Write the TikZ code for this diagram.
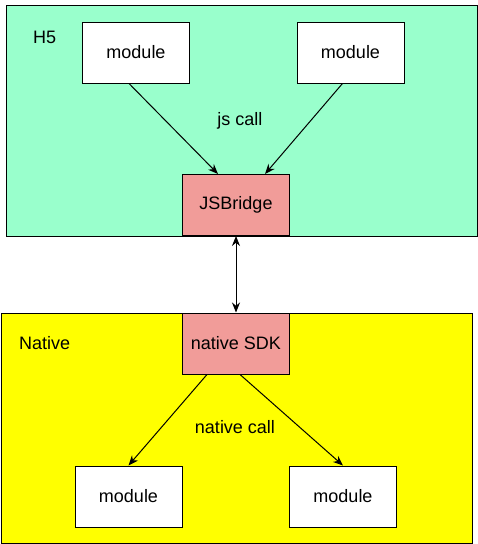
\documentclass[tikz,border=0pt]{standalone}
\usepackage{fontspec}
\setmainfont{Liberation Sans}
\usetikzlibrary{arrows.meta,positioning,calc}
\definecolor{mintGreen}{RGB}{153,255,204}
\definecolor{sdkPink}{RGB}{241,156,153}
\definecolor{nativeYellow}{RGB}{255,255,0}

\begin{document}
\begin{tikzpicture}[
  x=1pt, y=-1pt,
  group/.style={rectangle, draw=black, line width=1pt, fill=#1,
                inner sep=0pt},
  box/.style={rectangle, draw=black, line width=1pt, fill=#1,
              minimum width=107pt, minimum height=61pt, inner sep=0pt,
              font=\fontsize{18}{20}\selectfont},
  lbl/.style={font=\fontsize{18}{20}\selectfont, inner sep=0pt},
  arr/.style={-{Stealth[length=10pt,width=8pt]}, line width=1pt, black}
]
  \useasboundingbox (0,0) rectangle (478,544);
  % layers
  \node[group=mintGreen, minimum width=471pt, minimum height=231pt]
    (H5) at (241.5,120.5) {};
  \node[group=nativeYellow, minimum width=471pt, minimum height=230pt]
    (Native) at (236.5,428) {};
  \node[lbl, anchor=west] (H5lbl) at (33,37) {H5};
  \node[lbl, anchor=west] (Nativelbl) at (19,343) {Native};
  % H5 side
  \node[box=white] (modA) at (136,52.5) {module};
  \node[box=white] (modB) at (350.5,52.5) {module};
  \node[box=sdkPink] (JSB) at (236,205) {JSBridge};
  \node[lbl] (jscall) at (240,121) {js call};
  % native side
  \node[box=sdkPink] (SDK) at (236,343.5) {native SDK};
  \node[box=white] (modC) at (128.5,496.5) {module};
  \node[box=white] (modD) at (343,496.5) {module};
  \node[lbl] (nativecall) at (235,427) {native call};
  % connectors
  \draw[arr] ([xshift=-7pt]modA.south) -- ([xshift=-18pt]JSB.north);
  \draw[arr] ([xshift=-8pt]modB.south) -- ([xshift=29pt]JSB.north);
  \draw[arr, {Stealth[length=10pt,width=8pt]}-{Stealth[length=10pt,width=8pt]}]
    (JSB.south) -- (SDK.north);
  \draw[arr] ([xshift=-29pt]SDK.south) -- (modC.north);
  \draw[arr] ([xshift=4pt]SDK.south) -- (modD.north);
\end{tikzpicture}
\end{document}
